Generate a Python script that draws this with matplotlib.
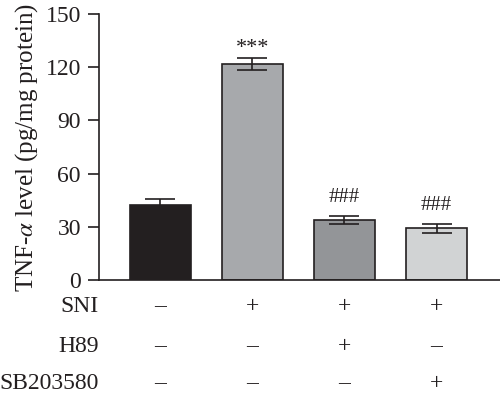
import matplotlib
matplotlib.use("Agg")
import matplotlib.pyplot as plt
import numpy as np

plt.rcParams['font.family'] = ['Liberation Serif', 'DejaVu Serif']
plt.rcParams['mathtext.fontset'] = 'stix'

groups = ["G1", "G2", "G3", "G4"]
values = [42.3, 121.8, 33.8, 29.2]
errors = [3.5, 3.5, 2.4, 2.4]
colors = ["#231f20", "#a7a9ac", "#939598", "#d1d3d4"]
marks = ["", "***", "###", "###"]
row_labels = ["SNI", "H89", "SB203580"]
row_signs = [["–", "+", "+", "+"],
             ["–", "–", "+", "–"],
             ["–", "–", "–", "+"]]
yticks = [0, 30, 60, 90, 120, 150]

fig = plt.figure(figsize=(5.0, 3.99), dpi=100)
ax = fig.add_axes([0.198, 0.298, 0.802, 0.667])

x = np.arange(len(groups))
ax.bar(x, values, width=0.66, color=colors, edgecolor="#231f20", linewidth=1.2, zorder=2)
ax.errorbar(x, values, yerr=errors, fmt="none", ecolor="#231f20", elinewidth=1.2,
            capsize=11, capthick=1.2, zorder=3)
for xi, v, e, m in zip(x, values, errors, marks):
    if m == "***":
        ax.text(xi, v + e + 2.5, m, ha="center", va="baseline", fontsize=16, color="#231f20")
    elif m:
        ax.text(xi, v + e + 8.0, m, ha="center", va="baseline", fontsize=15, color="#231f20")

ax.set_xlim(-0.668, 3.69)
ax.set_ylim(0, 150)
ax.set_yticks(yticks)
ax.set_xticks([])
ax.spines['top'].set_visible(False)
ax.spines['right'].set_visible(False)
for s in ['left', 'bottom']:
    ax.spines[s].set_linewidth(1.2)
    ax.spines[s].set_color("#231f20")
ax.tick_params(axis='y', direction='out', length=8, width=1.2, labelsize=17, pad=5, colors="#231f20")
ax.set_ylabel(r"TNF-$\alpha$ level (pg/mg protein)", fontsize=18, color="#231f20", labelpad=4)

trans = ax.get_xaxis_transform()
row_y = [-0.100, -0.248, -0.387]
for lab, signs, ry in zip(row_labels, row_signs, row_y):
    ax.text(-0.668, ry, lab, transform=trans, ha="right", va="center", fontsize=17, color="#231f20")
    for xi, s in zip(x, signs):
        ax.text(xi, ry, s, transform=trans, ha="center", va="center", fontsize=17, color="#231f20")

fig.savefig("out.png", dpi=100)
